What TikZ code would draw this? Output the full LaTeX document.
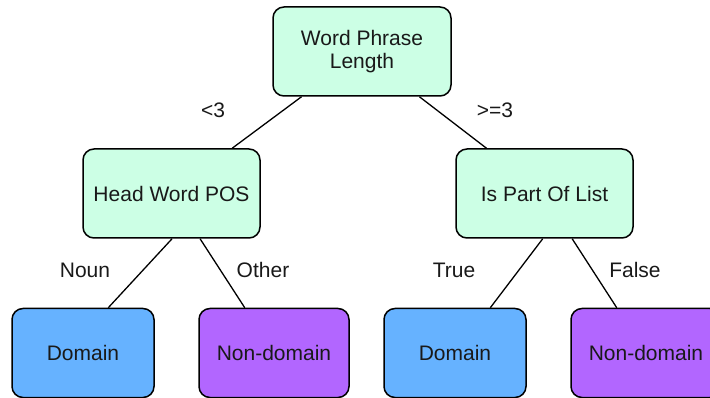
\documentclass[tikz,border=0pt]{standalone}
\usepackage{fontspec}
\setmainfont{Liberation Sans}
\usetikzlibrary{calc}
\definecolor{testgreen}{HTML}{CCFFE5}
\definecolor{leafblue}{HTML}{66B2FF}
\definecolor{leafpurple}{HTML}{B266FF}
\begin{document}
\begin{tikzpicture}[x=1pt,y=-1pt,
  font=\fontsize{21}{23}\selectfont,
  box/.style={draw=black,line width=1.5pt,rounded corners=11pt,inner sep=0pt,
    minimum height=89pt,align=center,text=black!90},
  testbox/.style={box,fill=testgreen,minimum width=177pt},
  domainbox/.style={box,fill=leafblue,minimum width=142pt},
  otherbox/.style={box,fill=leafpurple,minimum width=150pt},
  branch/.style={line width=1.3pt,draw=black},
  lbl/.style={inner sep=0pt,text=black!90}]
\useasboundingbox (0,0) rectangle (710,398);
% decision nodes
\node[testbox,minimum width=178pt] (root) at (362,51.5) {Word Phrase\\Length};
\node[testbox] (pos) at (171.5,193.5) {Head Word POS};
\node[testbox] (list) at (544.5,193.5) {Is Part Of List};
% leaves
\node[domainbox] (dl) at (83,353) {Domain};
\node[otherbox] (nl) at (274,353) {Non-domain};
\node[domainbox] (dr) at (455,353) {Domain};
\node[otherbox] (nr) at (646,353) {Non-domain};
% branches
\draw[branch] ($(root.south west)!0.163!(root.south east)$) -- ($(pos.north west)!0.84!(pos.north east)$);
\draw[branch] ($(root.south west)!0.82!(root.south east)$) -- ($(list.north west)!0.175!(list.north east)$);
\draw[branch] ($(pos.south west)!0.503!(pos.south east)$) -- ($(dl.north west)!0.676!(dl.north east)$);
\draw[branch] ($(pos.south west)!0.66!(pos.south east)$) -- ($(nl.north west)!0.307!(nl.north east)$);
\draw[branch] ($(list.south west)!0.49!(list.south east)$) -- ($(dr.north west)!0.746!(dr.north east)$);
\draw[branch] ($(list.south west)!0.655!(list.south east)$) -- ($(nr.north west)!0.307!(nr.north east)$);
% branch labels
\node[lbl] (lt) at (213,110) {<3};
\node[lbl] (ge) at (495,110) {>=3};
\node[lbl] (noun) at (85,270) {Noun};
\node[lbl] (other) at (263,270) {Other};
\node[lbl] (true) at (454,270) {True};
\node[lbl] (false) at (635,270) {False};
\end{tikzpicture}
\end{document}
